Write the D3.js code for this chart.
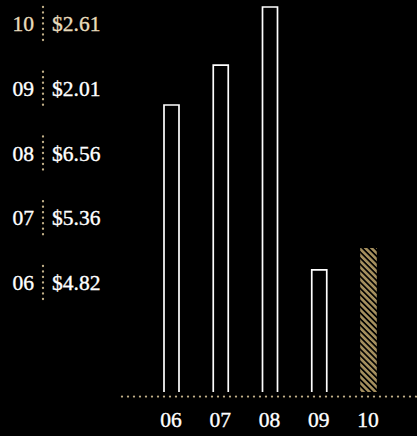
<!DOCTYPE html>
<html>
<head>
<meta charset="utf-8">
<script src="https://cdn.jsdelivr.net/npm/d3@7"></script>
<style>
html,body{margin:0;padding:0;background:#000;}
svg{display:block;}
</style>
</head>
<body>
<script>
// Data
const years = ["06", "07", "08", "09", "10"];
const priceLabels = ["$4.82", "$5.36", "$6.56", "$2.01", "$2.61"];
const barValues = [4.89, 5.57, 6.56, 2.08, 2.44];
const highlightYear = "10";

const W = 417, H = 436;
const gold = "#a48f5e";
const dotGold = "#c2b089";
const cream = "#e8dcbc";
const font = "'Liberation Serif', 'Times New Roman', serif";

const svg = d3.select("body").append("svg").attr("width", W).attr("height", H);
svg.append("rect").attr("width", W).attr("height", H).attr("fill", "#000");

const defs = svg.append("defs");
const pat = defs.append("pattern")
  .attr("id", "hatch").attr("patternUnits", "userSpaceOnUse")
  .attr("width", 4.3).attr("height", 4.3)
  .attr("patternTransform", "rotate(-45)");
pat.append("rect").attr("width", 4.3).attr("height", 4.3).attr("fill", "#000");
pat.append("rect").attr("width", 2.6).attr("height", 4.3).attr("fill", gold);

const x = d3.scalePoint().domain(years).range([171.5, 368.5]);
const y = d3.scaleLinear().domain([0, 6.56]).range([392, 7]);
const bw = 15;

// Bars
const data = years.map((yr, i) => ({yr, v: barValues[i], label: priceLabels[i]}));
svg.append("g").selectAll("path").data(data.filter(d => d.yr !== highlightYear)).join("path")
  .attr("d", d => {
    const x0 = x(d.yr) - bw / 2, x1 = x(d.yr) + bw / 2;
    return `M${x0},${y(0)}V${y(d.v)}H${x1}V${y(0)}`;
  })
  .attr("fill", "none").attr("stroke", "#fff").attr("stroke-width", 1.7);

svg.append("g").selectAll("rect").data(data.filter(d => d.yr === highlightYear)).join("rect")
  .attr("x", d => x(d.yr) - bw / 2 - 0.8)
  .attr("y", d => y(d.v) - 0.8)
  .attr("width", bw + 1.6)
  .attr("height", d => y(0) - y(d.v) + 0.8)
  .attr("fill", "url(#hatch)");

// Baseline dots
const baseDots = d3.range(122, W, 6);
svg.append("g").selectAll("circle").data(baseDots).join("circle")
  .attr("cx", d => d).attr("cy", 396.6).attr("r", 1.15).attr("fill", dotGold);

// X axis labels
svg.append("g").selectAll("text").data(years).join("text")
  .attr("x", d => x(d) - 0.5).attr("y", 427)
  .attr("text-anchor", "middle")
  .attr("font-family", font).attr("font-size", 21.5)
  .attr("fill", "#fff").attr("stroke", "#fff").attr("stroke-width", 0.35)
  .text(d => d);

// Left table
const rowY = d3.scalePoint().domain(years.slice().reverse()).range([31, 290]);
const rows = svg.append("g").selectAll("g").data(data).join("g")
  .attr("transform", d => `translate(0,${rowY(d.yr)})`);
rows.append("text")
  .attr("x", 34).attr("y", 0).attr("text-anchor", "end")
  .attr("font-family", font).attr("font-size", 21.5)
  .attr("fill", d => d.yr === highlightYear ? cream : "#fff")
  .attr("stroke", d => d.yr === highlightYear ? cream : "#fff").attr("stroke-width", 0.35)
  .text(d => d.yr);
rows.append("text")
  .attr("x", 52).attr("y", 0).attr("text-anchor", "start")
  .attr("font-family", font).attr("font-size", 21.5)
  .attr("fill", d => d.yr === highlightYear ? cream : "#fff")
  .attr("stroke", d => d.yr === highlightYear ? cream : "#fff").attr("stroke-width", 0.35)
  .text(d => d.label);
rows.each(function() {
  d3.select(this).selectAll("circle").data(d3.range(7)).join("circle")
    .attr("cx", 43).attr("cy", i => -24 + i * 5.5).attr("r", 1.15).attr("fill", dotGold);
});
</script>
</body>
</html>
